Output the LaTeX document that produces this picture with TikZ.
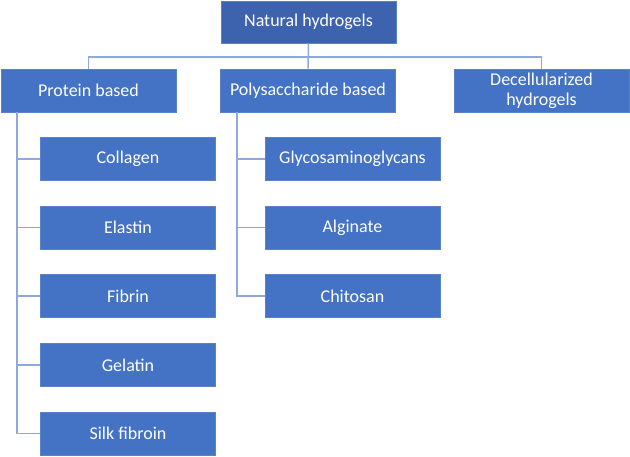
\documentclass[tikz,border=0pt]{standalone}
\usepackage{fontspec}
\setmainfont{Carlito}
\definecolor{boxblue}{HTML}{4472C4}
\definecolor{topblue}{HTML}{3D63AE}
\definecolor{boxedge}{HTML}{5A82CB}
\definecolor{lineblue}{HTML}{8EA9DB}
\begin{document}
\begin{tikzpicture}[x=1pt,y=-1pt,
  box/.style={fill=boxblue, draw=boxedge, line width=0.6pt, text=white,
    minimum width=175pt, minimum height=43pt, inner sep=0pt, align=center,
    font=\fontsize{18}{20}\selectfont},
  conn/.style={draw=lineblue, line width=1.5pt}]
\useasboundingbox (0,0) rectangle (630,456);
\node[box, fill=topblue, minimum height=42pt] (top) at (308.5,22) {Natural hydrogels};
\node[box] (prot) at (88.5,90.5) {Protein based};
\node[box] (poly) at (308,90.5) {Polysaccharide based};
\node[box] (dec) at (541.5,90.5) {Decellularized\\hydrogels};
\node[box] (col) at (128,159) {Collagen};
\node[box] (ela) at (128,227.5) {Elastin};
\node[box] (fib) at (128,296) {Fibrin};
\node[box] (gel) at (128,365) {Gelatin};
\node[box] (silk) at (128,433.5) {Silk fibroin};
\node[box] (gly) at (352.5,159) {Glycosaminoglycans};
\node[box] (alg) at (352.5,227.5) {Alginate};
\node[box] (chi) at (352.5,296) {Chitosan};
\coordinate (bus) at (308,57);
\coordinate (ptrunk) at (17,112);
\coordinate (strunk) at (237,112);
\draw[conn] (top.south) -- (poly.north);
\draw[conn] (prot.north) |- (bus) -| (dec.north);
\foreach \n in {col,ela,fib,gel,silk} \draw[conn] (ptrunk) |- (\n.west);
\foreach \n in {gly,alg,chi} \draw[conn] (strunk) |- (\n.west);
\end{tikzpicture}
\end{document}
